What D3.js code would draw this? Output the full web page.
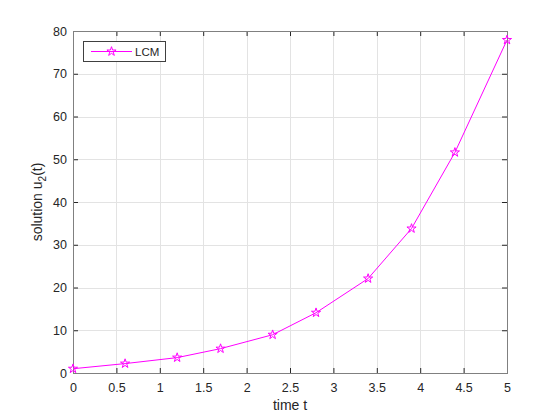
<!DOCTYPE html>
<html>
<head>
<meta charset="utf-8">
<script src="https://cdn.jsdelivr.net/npm/d3@7"></script>
<style>
  body { margin: 0; background: #fff; }
  svg text { font-family: "Liberation Sans", Arial, sans-serif; fill: #262626; }
</style>
</head>
<body>
<svg id="chart" width="560" height="420"></svg>
<script>
// time points and LCM solution values
const timeT = [0, 0.6, 1.2, 1.7, 2.3, 2.8, 3.4, 3.9, 4.4, 5.0];
const solutionU2 = [1.0, 2.2, 3.6, 5.7, 8.95, 14.1, 22.1, 33.8, 51.6, 77.9];
const xTicks = [0, 0.5, 1, 1.5, 2, 2.5, 3, 3.5, 4, 4.5, 5];
const yTicks = [0, 10, 20, 30, 40, 50, 60, 70, 80];
const seriesName = 'LCM';

const width = 560, height = 420;
const margin = { top: 31, right: 53, bottom: 47, left: 73 };
const innerW = width - margin.left - margin.right;
const innerH = height - margin.top - margin.bottom;
const magenta = '#ff00ff';

const svg = d3.select('#chart');
const g = svg.append('g').attr('transform', `translate(${margin.left},${margin.top})`);

const x = d3.scaleLinear().domain([0, 5]).range([0, innerW]);
const y = d3.scaleLinear().domain([0, 80]).range([innerH, 0]);

// grid
g.append('g').selectAll('line').data(xTicks).enter().append('line')
    .attr('x1', d => Math.round(x(d)) + 0.5).attr('x2', d => Math.round(x(d)) + 0.5)
    .attr('y1', 0).attr('y2', innerH)
    .attr('stroke', '#e3e3e3');
g.append('g').selectAll('line').data(yTicks).enter().append('line')
    .attr('y1', d => Math.round(y(d)) + 0.5).attr('y2', d => Math.round(y(d)) + 0.5)
    .attr('x1', 0).attr('x2', innerW)
    .attr('stroke', '#e3e3e3');

// axes (ticks inside, on all four sides)
const fmt = d => String(d);
const styleAxis = sel => {
    sel.select('.domain').remove();
    sel.selectAll('.tick line').attr('stroke', '#262626');
    sel.selectAll('.tick text').attr('font-size', 12.5).attr('fill', '#262626');
};
g.append('g').attr('transform', `translate(0,${innerH})`)
    .call(d3.axisBottom(x).tickValues(xTicks).tickFormat(fmt).tickSize(-5).tickPadding(10))
    .call(styleAxis);
g.append('g')
    .call(d3.axisTop(x).tickValues(xTicks).tickFormat('').tickSize(-5))
    .call(styleAxis);
g.append('g')
    .call(d3.axisLeft(y).tickValues(yTicks).tickFormat(fmt).tickSize(-5).tickPadding(6))
    .call(styleAxis);
g.append('g').attr('transform', `translate(${innerW},0)`)
    .call(d3.axisRight(y).tickValues(yTicks).tickFormat('').tickSize(-5))
    .call(styleAxis);

g.append('rect')
    .attr('x', 0.5).attr('y', 0.5).attr('width', innerW).attr('height', innerH)
    .attr('fill', 'none').attr('stroke', '#808080');

// series
const pts = timeT.map((t, i) => [t, solutionU2[i]]);
g.append('path')
    .datum(pts)
    .attr('fill', 'none')
    .attr('stroke', magenta)
    .attr('stroke-width', 1)
    .attr('d', d3.line().x(d => x(d[0])).y(d => y(d[1])));

const star = d3.symbol().type(d3.symbolStar).size(26);
g.append('g').selectAll('path').data(pts).enter().append('path')
    .attr('d', star)
    .attr('transform', d => `translate(${x(d[0])},${y(d[1])})`)
    .attr('fill', 'none')
    .attr('stroke', magenta)
    .attr('stroke-width', 1);

// axis labels
svg.append('text')
    .attr('x', margin.left + innerW / 2).attr('y', 410)
    .attr('text-anchor', 'middle').attr('font-size', 14)
    .text('time t');

const ylab = svg.append('text')
    .attr('transform', `translate(42,${margin.top + innerH / 2}) rotate(-90)`)
    .attr('text-anchor', 'middle').attr('font-size', 14);
ylab.append('tspan').text('solution u');
ylab.append('tspan').attr('font-size', 10).attr('dy', 4).text('2');
ylab.append('tspan').attr('dy', -4).text('(t)');

// legend
const leg = svg.append('g').attr('transform', 'translate(83,41)');
leg.append('rect')
    .attr('x', 0.5).attr('y', 0.5).attr('width', 82).attr('height', 20)
    .attr('fill', '#fff').attr('stroke', '#404040');
leg.append('line')
    .attr('x1', 8).attr('x2', 49).attr('y1', 10.5).attr('y2', 10.5)
    .attr('stroke', magenta);
leg.append('path')
    .attr('d', star)
    .attr('transform', 'translate(28.5,10.5)')
    .attr('fill', 'none').attr('stroke', magenta);
leg.append('text')
    .attr('x', 52).attr('y', 15)
    .attr('font-size', 11.5).attr('fill', '#000')
    .text(seriesName);
</script>
</body>
</html>
